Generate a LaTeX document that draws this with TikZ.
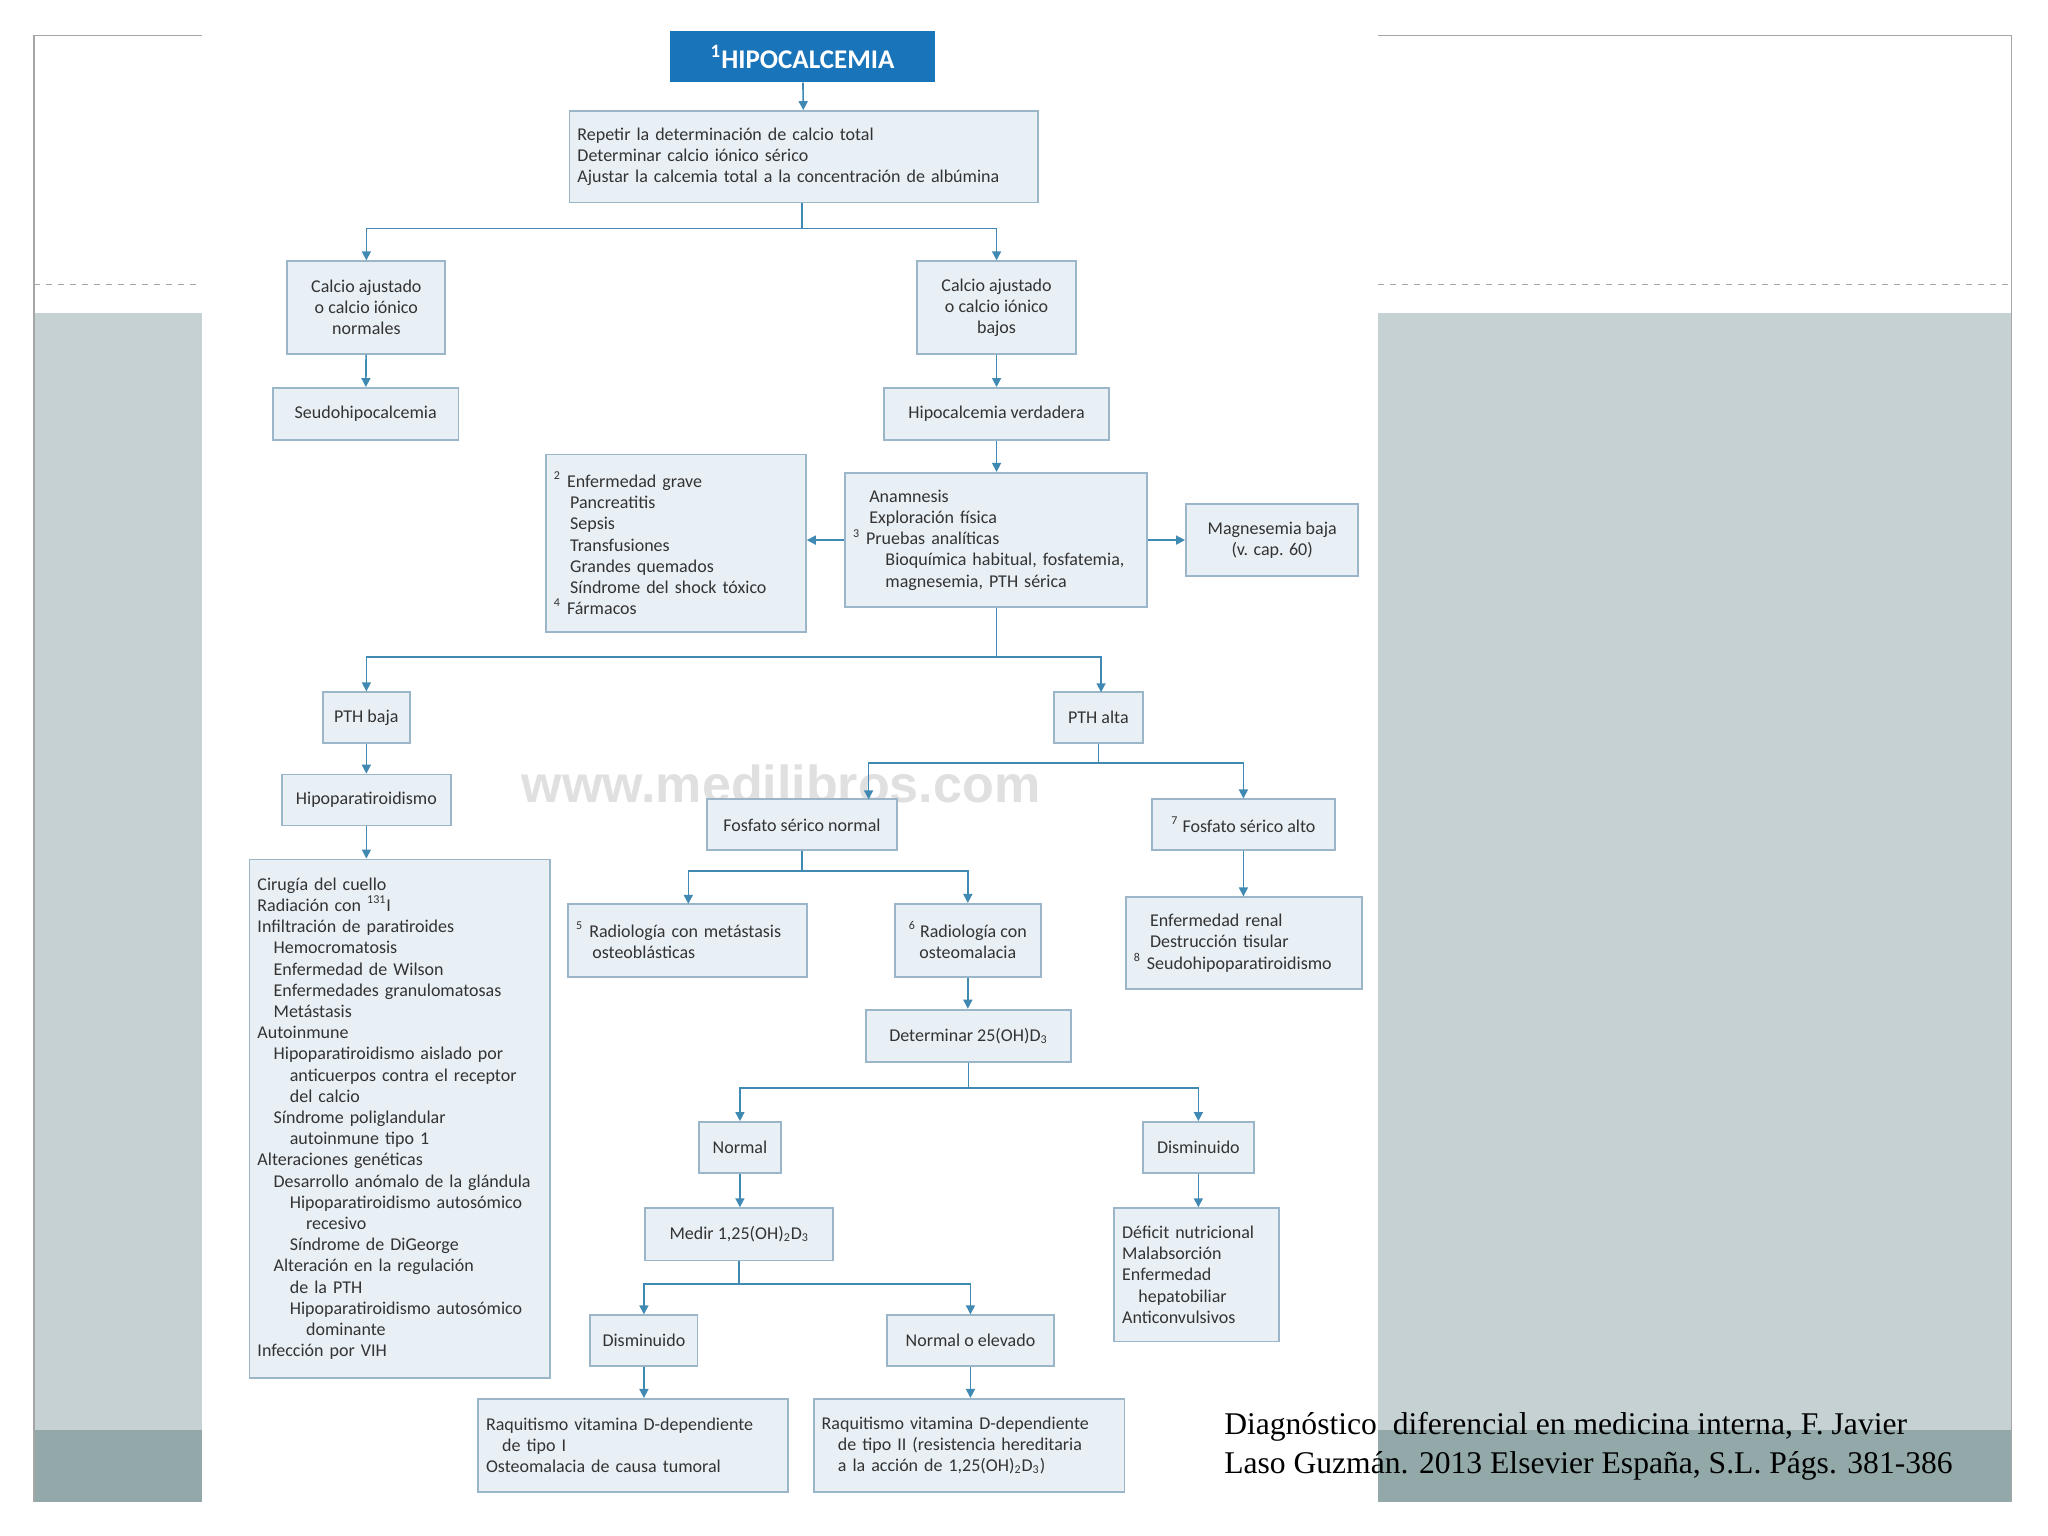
\documentclass[tikz,border=0pt]{standalone}
\usepackage{fontspec}
\setmainfont{Carlito}
\newfontfamily\citefont{Liberation Serif}
\newfontfamily\wmfont{Liberation Sans}
\usetikzlibrary{arrows.meta}
\definecolor{boxfill}{HTML}{E8EFF5}
\definecolor{boxline}{HTML}{9AB6C8}
\definecolor{conn}{HTML}{3F89B3}
\definecolor{titleblue}{HTML}{1A74BA}
\definecolor{slidegray}{HTML}{C6D1D4}
\definecolor{slidedark}{HTML}{93A9A9}
\definecolor{txt}{HTML}{333333}
\tikzset{
  box/.style={draw=boxline,fill=boxfill,line width=0.9pt,text=txt,font=\fontsize{9}{10.6}\selectfont,inner xsep=3pt,inner ysep=3pt,align=center},
  lbox/.style={box,align=left,inner xsep=4pt},
  arr/.style={draw=conn,line width=0.8pt,-{Triangle[width=4.5pt,length=4.5pt]}},
  ln/.style={draw=conn,line width=0.8pt}
}
\newcommand\bb[6]{\node[box,minimum width={(#4-#2)*0.653pt},minimum height={(#5-#3)*0.653pt}] (#1) at ({(#2+#4)/2},{(#3+#5)/2}) {#6};}
\newcommand\lb[6]{\node[lbox,text width={(#4-#2)*0.653pt-8pt},minimum height={(#5-#3)*0.653pt}] (#1) at ({(#2+#4)/2},{(#3+#5)/2}) {#6};}
\newcommand\sr[1]{\textsuperscript{#1}}
\newcommand\ii{\hspace*{0.9em}}
\begin{document}
\begin{tikzpicture}[x=0.653pt,y=-0.653pt]
\useasboundingbox (0,0) rectangle (1568,1176);
\fill[white] (0,0) rectangle (1568,1176);
% slide background
\fill[slidegray] (26,240) rectangle (1540,1150);
\fill[slidedark] (26,1095) rectangle (1540,1150);
\draw[gray!70,line width=0.6pt] (26,1150) -- (26,27) -- (1540,27) -- (1540,1150);
\draw[gray!70,line width=0.6pt,dashed] (26,218) -- (1540,218);
\fill[white] (155,12) rectangle (1055,1160);
% watermark
\node[text=black!12,font=\wmfont\bfseries\fontsize{26}{26}\selectfont] (wm) at (598,600) {www.medilibros.com};
% boxes
\node[fill=titleblue,text=white,font=\bfseries\fontsize{13.5}{14}\selectfont,minimum width={203*0.653pt},minimum height={39*0.653pt}] (t) at (614.5,43.5) {\sr{1}HIPOCALCEMIA};
\lb{b1}{436}{85}{795}{155}{Repetir la determinación de calcio total\\Determinar calcio iónico sérico\\Ajustar la calcemia total a la concentración de albúmina}
\bb{b2}{220}{200}{341}{271}{Calcio ajustado\\o calcio iónico\\normales}
\bb{b3}{702}{200}{824}{271}{Calcio ajustado\\o calcio iónico\\bajos}
\bb{b4}{209}{297}{351}{337}{Seudohipocalcemia}
\bb{b5}{677}{297}{849}{337}{Hipocalcemia verdadera}
\lb{b6}{418}{348}{617}{484}{\sr{2} Enfermedad grave\\\ii Pancreatitis\\\ii Sepsis\\\ii Transfusiones\\\ii Grandes quemados\\\ii Síndrome del shock tóxico\\\sr{4} Fármacos}
\lb{b7}{647}{362}{878}{465}{\ii Anamnesis\\\ii Exploración física\\\sr{3} Pruebas analíticas\\\ii\ii Bioquímica habitual, fosfatemia,\\\ii\ii magnesemia, PTH sérica}
\bb{b8}{908}{386}{1040}{441}{Magnesemia baja\\(v. cap. 60)}
\bb{b9}{247}{530}{314}{569}{PTH baja}
\bb{b10}{807}{530}{875}{569}{PTH alta}
\bb{b11}{216}{593}{345}{632}{Hipoparatiroidismo}
\bb{b12}{541}{612}{687}{651}{Fosfato sérico normal}
\bb{b13}{882}{612}{1022}{651}{\sr{7} Fosfato sérico alto}
\lb{b14}{191}{658}{421}{1055}{Cirugía del cuello\\Radiación con \sr{131}I\\Infiltración de paratiroides\\\ii Hemocromatosis\\\ii Enfermedad de Wilson\\\ii Enfermedades granulomatosas\\\ii Metástasis\\Autoinmune\\\ii Hipoparatiroidismo aislado por\\\ii\ii anticuerpos contra el receptor\\\ii\ii del calcio\\\ii Síndrome poliglandular\\\ii\ii autoinmune tipo 1\\Alteraciones genéticas\\\ii Desarrollo anómalo de la glándula\\\ii\ii Hipoparatiroidismo autosómico\\\ii\ii\ii recesivo\\\ii\ii Síndrome de DiGeorge\\\ii Alteración en la regulación\\\ii\ii de la PTH\\\ii\ii Hipoparatiroidismo autosómico\\\ii\ii\ii dominante\\Infección por VIH}
\lb{b15}{435}{692}{618}{748}{\sr{5} Radiología con metástasis\\\ii osteoblásticas}
\bb{b16}{685}{692}{797}{748}{\sr{6} Radiología con\\osteomalacia}
\lb{b17}{862}{687}{1043}{757}{\ii Enfermedad renal\\\ii Destrucción tisular\\\sr{8} Seudohipoparatiroidismo}
\bb{b18}{663}{773}{820}{813}{Determinar 25(OH)D\textsubscript{3}}
\bb{b19}{535}{859}{598}{898}{Normal}
\bb{b20}{875}{859}{960}{898}{Disminuido}
\bb{b21}{494}{925}{638}{965}{Medir 1,25(OH)\textsubscript{2}D\textsubscript{3}}
\lb{b22}{853}{925}{979}{1027}{Déficit nutricional\\Malabsorción\\Enfermedad\\\ii hepatobiliar\\Anticonvulsivos}
\bb{b23}{452}{1007}{534}{1046}{Disminuido}
\bb{b24}{679}{1007}{807}{1046}{Normal o elevado}
\lb{b25}{366}{1071}{603}{1142}{Raquitismo vitamina D-dependiente\\\ii de tipo I\\Osteomalacia de causa tumoral}
\lb{b26}{623}{1071}{861}{1142}{Raquitismo vitamina D-dependiente\\\ii de tipo II (resistencia hereditaria\\\ii a la acción de 1,25(OH)\textsubscript{2}D\textsubscript{3})}
% connectors
\draw[arr] (t) -- (b1);
\coordinate (j1) at (614,175);
\draw[ln] (b1.south -| j1) -- (j1);
\draw[arr] (j1) -| (b2.north);
\draw[arr] (j1) -| (b3.north);
\draw[arr] (b2) -- (b4);
\draw[arr] (b3) -- (b5);
\draw[arr] (b5) -- (b7.north -| b5);
\draw[arr] (b7.west) -- (b6.east |- b7.west);
\draw[arr] (b7.east) -- (b8.west |- b7.east);
\coordinate (j2) at (763,503);
\draw[ln] (b7.south -| j2) -- (j2);
\draw[arr] (j2) -| (b9.north);
\draw[arr] (j2) -| (843,530);
\draw[arr] (b9) -- (b11.north -| b9);
\draw[arr] (b11) -- (b14.north -| b11);
\coordinate (j3) at (841,584);
\draw[ln] (b10.south) -- (j3);
\draw[arr] (j3) -| (665,612);
\draw[arr] (j3) -| (b13.north);
\coordinate (j4) at (614,667);
\draw[ln] (b12.south) -- (j4);
\draw[arr] (j4) -| (527,692);
\draw[arr] (j4) -| (b16.north);
\draw[arr] (b13) -- (b17.north -| b13);
\draw[arr] (b16) -- (b18.north -| b16);
\coordinate (j5) at (741.5,833);
\draw[ln] (b18.south) -- (j5);
\draw[arr] (j5) -| (b19.north);
\draw[arr] (j5) -| (b20.north);
\draw[arr] (b19) -- (b21.north -| b19);
\draw[arr] (b20) -- (b22.north -| b20);
\coordinate (j6) at (566,983);
\draw[ln] (b21.south) -- (j6);
\draw[arr] (j6) -| (b23.north);
\draw[arr] (j6) -| (b24.north);
\draw[arr] (b23) -- (b25.north -| b23);
\draw[arr] (b24) -- (b26.north -| b24);
% citation
\node[anchor=north west,align=left,font=\citefont\fontsize{15.8}{19.5}\selectfont,inner sep=0pt] (cite) at (937,1081) {Diagnóstico\ \ diferencial en medicina interna, F. Javier\\Laso Guzmán. 2013 Elsevier España, S.L. Págs. 381-386};
\end{tikzpicture}
\end{document}
